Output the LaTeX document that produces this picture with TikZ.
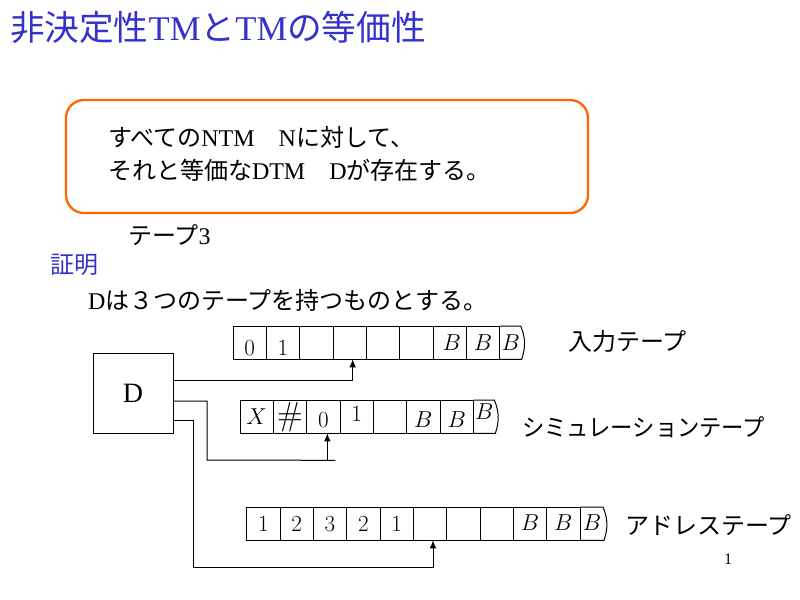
\documentclass[tikz,border=0pt]{standalone}
\usepackage{graphicx}
\usepackage[no-math]{fontspec}
\setmainfont{Liberation Serif}
\newfontfamily\jp{Noto Sans CJK JP}
\usetikzlibrary{arrows.meta,calc}
\definecolor{ttlblue}{RGB}{51,51,204}
\definecolor{boxorange}{RGB}{255,102,0}
\begin{document}
\begin{tikzpicture}[x=0.75pt,y=-0.75pt,
  every node/.style={inner sep=0pt, outer sep=0pt},
  body/.style={anchor=west, font=\fontsize{18}{22}\selectfont},
  title/.style={anchor=west, font=\fontsize{26}{30}\selectfont, text=ttlblue},
  cell/.style={draw, line width=0.75pt, minimum width=25pt, minimum height=25pt, anchor=north west, text height=11.5pt, text depth=0pt, font=\fontsize{17}{19}\selectfont},
  celltext/.style={text height=11.5pt, text depth=0pt, font=\fontsize{17}{19}\selectfont},
  tapeline/.style={line width=0.75pt},
  conn/.style={line width=0.75pt},
  arr/.style={line width=0.75pt, -{Latex[length=6pt,width=5pt]}},
]
\useasboundingbox (0,0) rectangle (800,600);
\fill[white] (0,0) rectangle (800,600);

% title
\node[title] (ttl) at (10,27) {{\jp 非決定性}TM{\jp と}TM{\jp の等価性}};

% claim box
\node[draw=boxorange, line width=1.75pt, rounded corners=13.5pt, minimum width=391.5pt, minimum height=84.75pt] (claim) at (327,156.5) {};
\node[body] (l1) at (108,137) {{\jp すべての}NTM{\jp 　}N{\jp に対して、}};
\node[body] (l2) at (108,170) {{\jp それと等価な}DTM{\jp 　}D{\jp が存在する。}};

\node[body] (tapethree) at (128,235) {{\jp テープ}3};
\node[body, text=ttlblue] (proof) at (50,265) {\jp 証明};
\node[body] (assume) at (88,300) {D{\jp は３つのテープを持つものとする。}};

% D box
\node[draw, line width=0.75pt, minimum width=60pt, minimum height=60pt, font=\fontsize{21}{24}\selectfont] (D) at (133,393) {D};

% tape 1
\foreach \c [count=\i from 0] in {{\raisebox{-4pt}{$0$}\hspace{7pt}},{\raisebox{-4pt}{$1$}},{},{},{},{},{\hspace{3pt}$B$},{$B$}}
  \node[cell] (t1c\i) at ({233+33.333*\i},326) {\c};
\draw[tapeline] (t1c7.north east) -- ++(21,0) .. controls +(5,12) and +(4,-12) .. ($(t1c7.south east)+(22,0)$) -- (t1c7.south east);
\node[celltext] (t1c8) at ($(t1c7.east)+(11,0)$) {$B$};

% tape 2
\foreach \c [count=\i from 0] in {{$X$},{\fontsize{23}{25}\selectfont\raisebox{-1pt}{$\#$}},{\raisebox{-2pt}{$0$}},{\raisebox{2pt}{$1$}},{},{\raisebox{-2.5pt}{$B$}\hspace{7pt}},{\raisebox{-2.5pt}{$B$}\hspace{7pt}}}
  \node[cell] (t2c\i) at ({240+33.333*\i},400) {\c};
\draw[tapeline] (t2c6.north east) -- ++(21,0) .. controls +(5,12) and +(4,-12) .. ($(t2c6.south east)+(22,0)$) -- (t2c6.south east);
\node[celltext] (t2c7) at ($(t2c6.east)+(11,0)$) {\raisebox{3.5pt}{$B$}};

% tape 3
\foreach \c [count=\i from 0] in {{$1$},{$2$},{$3$},{$2$},{$1$},{},{},{},{\raisebox{1pt}{$B$}},{\raisebox{1pt}{$B$}}}
  \node[cell] (t3c\i) at ({246.667+33.333*\i},507) {\c};
\draw[tapeline] (t3c9.north east) -- ++(23,0) .. controls +(5,12) and +(4,-12) .. ($(t3c9.south east)+(24,0)$) -- (t3c9.south east);
\node[celltext] (t3c10) at ($(t3c9.east)+(12,0)$) {\raisebox{1pt}{$B$}};

% connectors
\draw[arr] ($(D.east)+(0,-13)$) -| ($(t1c3.south)+(3,0)$);
\coordinate (j2) at ($(t2c2.south)+(4,27)$);
\draw[conn] ($(D.east)+(0,8)$) -| ($(D.east)+(34,67)$) -- ($(j2)+(8,0)$);
\draw[arr] (j2) -- ($(t2c2.south)+(4,0)$);
\draw[arr] ($(D.east)+(0,27)$) -| ($(D.east)+(20,174)$) -| ($(t3c5.south)+(3,0)$);

% tape labels
\node[body] (lab1) at (568,341) {\jp 入力テープ};
\node[body] (lab2) at (522,427) {\jp\scalebox{0.93}[1]{シミュレーションテープ}};
\node[body] (lab3) at (625,525) {\jp アドレステープ};

\node[font=\fontsize{12}{14}\selectfont] (pg) at (728,559) {1};
\end{tikzpicture}
\end{document}
